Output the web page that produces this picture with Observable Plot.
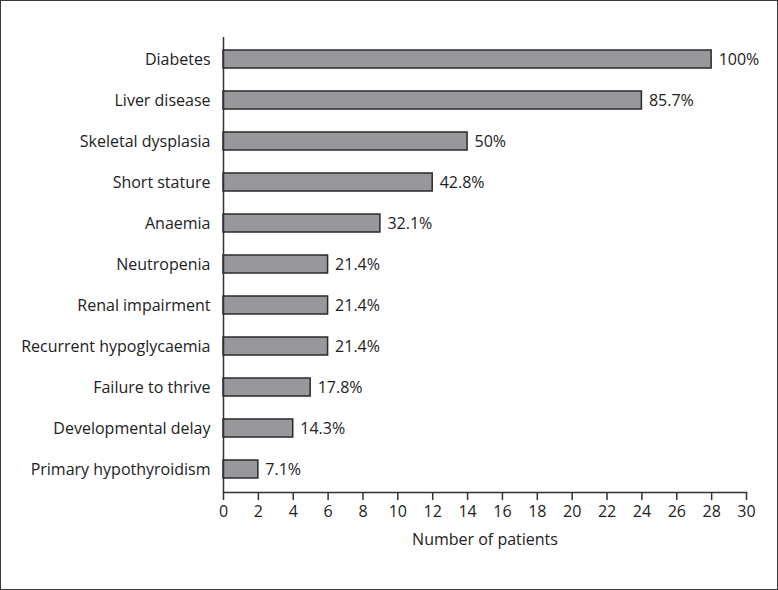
<!DOCTYPE html>
<html>
<head>
<meta charset="utf-8">
<script src="https://cdn.jsdelivr.net/npm/d3@7"></script>
<script src="https://cdn.jsdelivr.net/npm/@observablehq/plot@0.6"></script>
<style>
  html, body { margin: 0; padding: 0; background: #fff; }
  #wrap { position: relative; width: 778px; height: 590px; overflow: hidden; }
  #wrap svg { position: absolute; left: 0; top: 0; }
  #border { position: absolute; left: 0; top: 0; width: 778px; height: 590px; box-sizing: border-box; border: 1.5px solid #3a3a3a; pointer-events: none; }
</style>
</head>
<body>
<div id="wrap"><div id="border"></div></div>
<script>
const categories = [
  "Diabetes", "Liver disease", "Skeletal dysplasia", "Short stature", "Anaemia",
  "Neutropenia", "Renal impairment", "Recurrent hypoglycaemia", "Failure to thrive",
  "Developmental delay", "Primary hypothyroidism"
];
const patients = [28, 24, 14, 12, 9, 6, 6, 6, 5, 4, 2];
const percentLabels = ["100%", "85.7%", "50%", "42.8%", "32.1%", "21.4%", "21.4%", "21.4%", "17.8%", "14.3%", "7.1%"];
const xTicks = d3.range(0, 31, 2);

const data = categories.map((c, i) => ({category: c, value: patients[i], label: percentLabels[i]}));

const font = "'Open Sans', 'Noto Sans', sans-serif";

const chart = Plot.plot({
  width: 778,
  height: 590,
  marginLeft: 223,
  marginRight: 32,
  marginTop: 37,
  marginBottom: 98,
  style: {fontFamily: font, fontSize: "16px", color: "#222", background: "transparent"},
  x: {domain: [0, 30], ticks: xTicks, label: null},
  y: {domain: categories, paddingInner: 0.56, paddingOuter: 0.28, label: null},
  marks: [
    Plot.barX(data, {x: "value", y: "category", fill: "#98989c", stroke: "#2a2a2a", strokeWidth: 1.5}),
    Plot.text(data, {x: "value", y: "category", text: "label", textAnchor: "start", dx: 7, fill: "#222", fontSize: 16}),
    Plot.ruleX([0], {stroke: "#333", strokeWidth: 1.5}),
    Plot.frame({anchor: "bottom", stroke: "#333", strokeWidth: 1.5}),
    Plot.axisX({ticks: xTicks, tickSize: 8, tickPadding: 5, stroke: "#333", strokeWidth: 1.5, fontSize: 16, color: "#222", label: "Number of patients", labelAnchor: "center", labelArrow: "none", labelOffset: 52}),
    Plot.axisY({tickSize: 0, tickPadding: 13, fontSize: 16, label: null})
  ]
});
document.getElementById("wrap").prepend(chart);
</script>
</body>
</html>
